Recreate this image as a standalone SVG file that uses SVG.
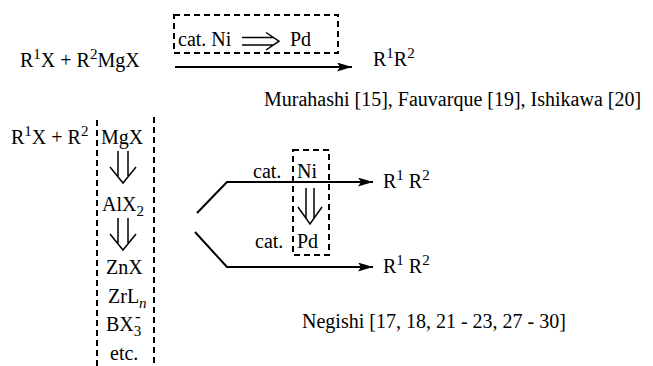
<svg xmlns="http://www.w3.org/2000/svg" width="653" height="366" viewBox="0 0 653 366" font-family="'Liberation Serif', 'Times New Roman', 'DejaVu Serif', serif">
<style>
text, tspan{font-family:'Liberation Serif', 'Times New Roman', 'DejaVu Serif', serif;font-size:20px;fill:#000}
.sm{font-size:15px}
.dash{fill:none;stroke:#000;stroke-width:2;stroke-dasharray:6,4}
.ln{fill:none;stroke:#000;stroke-width:2}
.dbl{fill:none;stroke:#000;stroke-width:1.5}
</style>
<defs>
<marker id="ah" markerUnits="userSpaceOnUse" markerWidth="16" markerHeight="10" refX="15" refY="4.5" orient="auto">
<path d="M0,0 L15,4.5 L0,9 L3,4.5 z" fill="#000"/>
</marker>
</defs>
<rect width="653" height="366" fill="#fff"/>
<g id="top-reactants"><text x="20" y="67">R<tspan class="sm" dy="-8">1</tspan><tspan dy="8">X + R</tspan><tspan class="sm" dy="-8">2</tspan><tspan dy="8">MgX</tspan></text></g>
<g id="top-catalyst">
<rect class="dash" x="174" y="15" width="164" height="38"/>
<text x="178" y="46">cat. Ni</text>
<path class="dbl" d="M242,37.5 H273 M242,45 H273 M266,32.5 L279,41.2 L266,50"/>
<text x="290" y="46">Pd</text>
</g>
<g id="top-product"><text x="373" y="66">R<tspan class="sm" dy="-8">1</tspan><tspan dy="8">R</tspan><tspan class="sm" dy="-8">2</tspan></text></g>
<g id="top-refs"><text x="264" y="106">Murahashi [15], Fauvarque [19], Ishikawa [20]</text></g>
<g id="left-reactants">
<text x="11" y="144">R<tspan class="sm" dy="-8">1</tspan><tspan dy="8">X + R</tspan><tspan class="sm" dy="-8">2</tspan></text>
</g>
<g id="metal-column">
<path class="dash" d="M97,366 V117 M154,117 V366"/>
<text x="101" y="144">MgX</text>
<path class="dbl" d="M118,151 V176 M128,151 V176 M110,167 L123,183 L136,167"/>
<text x="102" y="211">AlX<tspan class="sm" dy="5">2</tspan></text>
<path class="dbl" d="M118,218 V243 M128,218 V243 M110,234 L123,250 L136,234"/>
<text x="106" y="274">ZnX</text>
<text x="108" y="303">ZrL<tspan class="sm" font-style="italic" dy="5">n</tspan></text>
<text x="106" y="331">BX<tspan class="sm" dy="5">3</tspan><tspan x="135" dy="-14" style="font-size:17px">-</tspan></text>
<text x="110" y="360">etc.</text>
</g>
<g id="catalyst-switch">
<rect class="dash" x="293" y="150" width="36" height="105"/>
<text x="253" y="178">cat.</text>
<text x="297" y="178">Ni</text>
<path class="dbl" d="M306,188 V218 M314,188 V218 M298,207 L310,224 L322,207"/>
<text x="255" y="248">cat.</text>
<text x="297" y="248">Pd</text>
</g>
<g id="products">
<text x="383" y="188">R<tspan class="sm" dy="-8">1</tspan><tspan dy="8"> R</tspan><tspan class="sm" dy="-8">2</tspan></text>
<text x="383" y="273">R<tspan class="sm" dy="-8">1</tspan><tspan dy="8"> R</tspan><tspan class="sm" dy="-8">2</tspan></text>
</g>
<g id="negishi-refs"><text x="302" y="328">Negishi [17, 18, 21 - 23, 27 - 30]</text></g>
<g id="connectors">
<path class="ln" d="M175,67 H352" marker-end="url(#ah)"/>
<path class="ln" d="M197,213 L227,182 H373" marker-end="url(#ah)"/>
<path class="ln" d="M195,232 L227,267 H373" marker-end="url(#ah)"/>
</g>
</svg>
